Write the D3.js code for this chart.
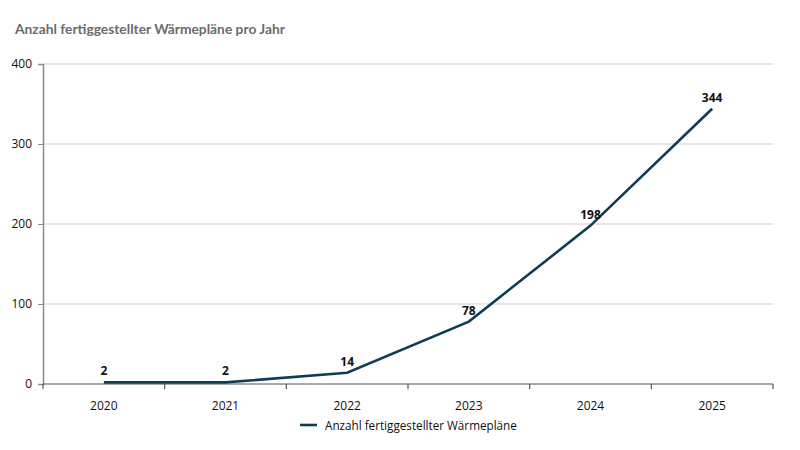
<!DOCTYPE html>
<html><head><meta charset="utf-8">
<script src="https://cdn.jsdelivr.net/npm/d3@7/dist/d3.min.js"></script>
<style>body{margin:0;background:#fff}svg{display:block}text{font-family:"Open Sans","Noto Sans",sans-serif}</style>
</head><body><svg id="c" width="800" height="450"></svg>
<script>
const title = "Anzahl fertiggestellter Wärmepläne pro Jahr";
const seriesName = "Anzahl fertiggestellter Wärmepläne";
const years = ["2020","2021","2022","2023","2024","2025"];
const values = [2, 2, 14, 78, 198, 344];
const yTicks = [0, 100, 200, 300, 400];

const svg = d3.select("#c");
const m = {l:43, r:27, t:64, b:66};
const W = 800, H = 450;
const x = d3.scaleBand().domain(years).range([m.l, W - m.r]);
const y = d3.scaleLinear().domain([0, 400]).range([H - m.b, m.t]);
const color = "#0f3e54";

svg.append("text").attr("x", 15).attr("y", 34).text(title)
  .style("font-family", "Lato, 'Open Sans', sans-serif")
  .attr("font-size", 13.8).attr("font-weight", 700).attr("fill", "#6b6b6b");

// gridlines
svg.append("g").selectAll("line").data(yTicks.filter(d => d > 0)).join("line")
  .attr("x1", m.l).attr("x2", W - m.r).attr("y1", d => y(d)).attr("y2", d => y(d))
  .attr("stroke", "#cfcfcf").attr("stroke-width", 1);

// y axis
const ya = svg.append("g").attr("transform", `translate(${m.l},0)`)
  .call(d3.axisLeft(y).tickValues(yTicks).tickSize(5).tickPadding(6));
ya.select(".domain").attr("stroke", "#8a8a8a").attr("stroke-width", 1.5);
ya.selectAll(".tick line").attr("stroke", "#8a8a8a");
ya.selectAll("text").attr("font-size", 12).attr("fill", "#111");

// x axis with ticks at band boundaries
const xg = svg.append("g").attr("transform", `translate(0,${y(0)})`);
xg.append("line").attr("x1", m.l).attr("x2", W - m.r).attr("stroke", "#555").attr("stroke-width", 1.2);
const bounds = years.map(d => x(d)).concat([x(years[years.length-1]) + x.bandwidth()]);
xg.selectAll("line.t").data(bounds).join("line").attr("class", "t")
  .attr("x1", d => d).attr("x2", d => d).attr("y1", 0).attr("y2", 5)
  .attr("stroke", "#555").attr("stroke-width", 1.2);
xg.selectAll("text").data(years).join("text")
  .attr("x", d => x(d) + x.bandwidth()/2).attr("y", 26).attr("text-anchor", "middle")
  .attr("font-size", 12).attr("fill", "#111").text(d => d);

const cx = d => x(d) + x.bandwidth()/2;
const data = years.map((d, i) => ({year: d, v: values[i]}));
svg.append("path").datum(data)
  .attr("d", d3.line().x(d => cx(d.year)).y(d => y(d.v)))
  .attr("fill", "none").attr("stroke", color).attr("stroke-width", 2.6);

svg.append("g").selectAll("text").data(data).join("text")
  .attr("x", d => cx(d.year)).attr("y", d => y(d.v) - 7).attr("text-anchor", "middle")
  .attr("font-size", 12).attr("font-weight", 700).attr("fill", "#111").text(d => d.v);

// legend
const lg = svg.append("g").attr("transform", "translate(300,425)");
lg.append("line").attr("x1", 0).attr("x2", 17).attr("stroke", color).attr("stroke-width", 2.6);
lg.append("text").attr("x", 25).attr("y", 4.5).attr("font-size", 11.7).attr("fill", "#111").text(seriesName);
</script></body></html>
